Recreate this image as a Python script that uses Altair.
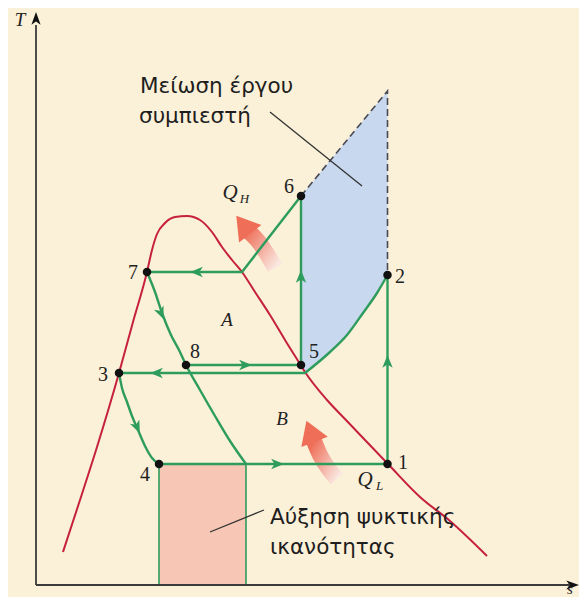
import altair as alt
import pandas as pd

# ---------------- data (s, T in arbitrary diagram units) ----------------
dome_s = [0.54, 0.88, 1.22, 1.66, 1.94, 2.22, 2.32, 2.42, 2.58, 2.78, 3.02, 3.28, 3.52, 3.72,
          3.92, 4.12, 4.38, 4.68, 4.98, 5.28, 5.38, 5.82, 6.18, 6.58, 7.04, 7.68, 8.28, 9.02]
dome_T = [0.66, 1.70, 2.76, 4.24, 5.26, 6.26, 6.70, 7.02, 7.24, 7.36, 7.38, 7.30, 7.06, 6.76,
          6.50, 6.26, 5.86, 5.40, 4.90, 4.42, 4.26, 3.70, 3.32, 2.90, 2.42, 1.76, 1.28, 0.58]

state_names = ["1", "2", "3", "4", "5", "6", "7", "8"]
state_s = [7.03, 7.03, 1.66, 2.46, 5.30, 5.30, 2.22, 3.00]
state_T = [2.42, 6.20, 4.24, 2.42, 4.40, 7.78, 6.26, 4.40]
label_s = [7.34, 7.28, 1.34, 2.18, 5.56, 5.06, 1.94, 3.18]
label_T = [2.44, 6.16, 4.20, 2.20, 4.66, 7.96, 6.24, 4.66]

# straight process lines
seg41_s, seg41_T = [2.46, 7.03], [2.42, 2.42]
seg12_s, seg12_T = [7.03, 7.03], [2.42, 6.20]
seg53_s, seg53_T = [5.38, 1.66], [4.24, 4.24]
seg85_s, seg85_T = [3.00, 5.30], [4.40, 4.40]
seg56_s, seg56_T = [5.30, 5.30], [4.40, 7.78]
seg67_s, seg67_T = [5.30, 4.12, 2.22], [7.78, 6.26, 6.26]
# curved process lines
cur52_s = [5.38, 5.88, 6.22, 6.54, 6.82, 7.03]
cur52_T = [4.24, 4.66, 5.00, 5.44, 5.84, 6.20]
cur78_s = [2.22, 2.38, 2.52, 2.70, 2.86, 3.00, 3.28, 3.58, 3.88, 4.20]
cur78_T = [6.26, 5.86, 5.44, 5.00, 4.70, 4.40, 3.90, 3.38, 2.88, 2.42]
cur34_s = [1.66, 1.72, 1.82, 1.92, 2.04, 2.20, 2.32, 2.46]
cur34_T = [4.24, 3.94, 3.66, 3.38, 3.10, 2.74, 2.54, 2.42]

# blue region (compressor work saved)
blue_s = [5.30, 5.38, 5.88, 6.22, 6.54, 6.82, 7.03]
blue_low = [4.40, 4.24, 4.66, 5.00, 5.44, 5.84, 6.20]
dash_s = [5.30, 7.03, 7.03]
dash_T = [7.78, 9.88, 6.20]

# pink rectangle (refrigeration capacity increase)
pink_s, pink_s2, pink_T, pink_T2 = [2.46], [4.20], [0.0], [2.42]

# arrow markers on the process lines
arr_s = [3.22, 2.50, 4.18, 2.42, 2.02, 4.82, 7.03, 5.30]
arr_T = [6.26, 5.44, 4.40, 4.24, 3.16, 2.42, 4.46, 6.16]
arr_ang = [270, 157, 90, 270, 156, 90, 0, 0]

# heat arrows
qh_s = [4.22, 4.44, 4.62, 4.78]
qh_T = [7.10, 6.88, 6.62, 6.34]
ql_s = [5.56, 5.68, 5.84, 6.02]
ql_T = [2.88, 2.60, 2.34, 2.12]
head_s = [4.18, 5.51]
head_T = [7.16, 3.02]
head_ang = [322, 339]

# letters
ital_txt = ["A", "B", "T"]
ital_s = [3.82, 4.92, -0.32]
ital_T = [5.30, 3.32, 11.30]
s_lab_s, s_lab_T = [10.68], [-0.24]
q_s = [3.88, 6.58]
q_T = [7.84, 2.10]
sub_txt = ["H", "L"]
sub_s = [4.17, 6.87]
sub_T = [7.72, 1.98]

greek_txt = ["Μείωση έργου", "συμπιεστή", "Αύξηση ψυκτικής", "ικανότητας"]
greek_s = [2.08, 2.06, 4.68, 4.68]
greek_T = [9.96, 9.36, 1.34, 0.74]
lead1_s, lead1_T = [4.68, 6.52], [9.46, 7.98]
lead2_s, lead2_T = [3.48, 4.56], [1.06, 1.50]

# axes
axv_s, axv_T = [0.0, 0.0], [0.0, 11.2]
axh_s, axh_T = [0.0, 10.66], [0.0, 0.0]
axhead_s, axhead_T, axhead_ang = [0.0, 10.72], [11.32, 0.0], [0, 90]

# ---------------- styling ----------------
GREEN = "#2E9C5D"
RED = "#C6203F"
BG = "#FBF0D8"
xs = alt.Scale(domain=[-0.56, 10.86], nice=False, zero=False)
ys = alt.Scale(domain=[-0.24, 11.54], nice=False, zero=False)
X = lambda f="s": alt.X(f"{f}:Q", scale=xs, axis=None)
Y = lambda f="T": alt.Y(f"{f}:Q", scale=ys, axis=None)


def lines(parts):
    rows = []
    for k, (ss, tt) in enumerate(parts):
        for i, (a, b) in enumerate(zip(ss, tt)):
            rows.append({"g": k, "i": i, "s": a, "T": b})
    return pd.DataFrame(rows)


straight = lines([(seg41_s, seg41_T), (seg12_s, seg12_T), (seg53_s, seg53_T),
                  (seg85_s, seg85_T), (seg56_s, seg56_T), (seg67_s, seg67_T)])
curves = lines([(cur52_s, cur52_T), (cur78_s, cur78_T), (cur34_s, cur34_T)])

blue = alt.Chart(pd.DataFrame({"s": blue_s, "low": blue_low})).transform_calculate(
    up=f"{dash_T[0]} + (datum.s - {dash_s[0]}) * ({dash_T[1]} - {dash_T[0]}) / ({dash_s[1]} - {dash_s[0]})"
).mark_area(color="#C8D8EE", opacity=1).encode(x=X(), y=Y("low"), y2="up:Q")

pink = alt.Chart(pd.DataFrame({"s": pink_s, "s2": pink_s2, "T": pink_T, "T2": pink_T2})).mark_rect(
    fill="#F7C6B5", stroke=GREEN, strokeWidth=1.6).encode(x=X(), x2="s2:Q", y=Y(), y2="T2:Q")

dome = alt.Chart(pd.DataFrame({"s": dome_s, "T": dome_T, "i": range(len(dome_s))})).mark_line(
    color=RED, strokeWidth=2, interpolate="monotone").encode(x=X(), y=Y(), order="i:Q")

dash = alt.Chart(pd.DataFrame({"s": dash_s, "T": dash_T, "i": range(3)})).mark_line(
    color="#4A4A55", strokeWidth=1.6, strokeDash=[7, 4]).encode(x=X(), y=Y(), order="i:Q")

straight_l = alt.Chart(straight).mark_line(color=GREEN, strokeWidth=2.4).encode(
    x=X(), y=Y(), detail="g:N", order="i:Q")
curve_l = alt.Chart(curves).mark_line(color=GREEN, strokeWidth=2.4, interpolate="monotone").encode(
    x=X(), y=Y(), detail="g:N", order="i:Q")

ARROW = "M0,-1 L0.75,0.85 L0,0.35 L-0.75,0.85 Z"
arrows = alt.Chart(pd.DataFrame({"s": arr_s, "T": arr_T, "a": arr_ang})).mark_point(
    shape=ARROW, filled=True, size=190, color=GREEN, opacity=1).encode(
    x=X(), y=Y(), angle=alt.Angle("a:Q", scale=None))

grad = alt.Gradient(gradient="linear",
                    stops=[alt.GradientStop(color="#EE6E58", offset=0),
                           alt.GradientStop(color="#FAE8E0", offset=1)],
                    x1=0, y1=0, x2=1, y2=1)
qh = alt.Chart(pd.DataFrame({"s": qh_s, "T": qh_T, "i": range(4)})).mark_line(
    stroke=grad, strokeWidth=16, interpolate="monotone").encode(x=X(), y=Y(), order="i:Q")
ql = alt.Chart(pd.DataFrame({"s": ql_s, "T": ql_T, "i": range(4)})).mark_line(
    stroke=grad, strokeWidth=16, interpolate="monotone").encode(x=X(), y=Y(), order="i:Q")
HEAD = "M0,-1 L1,0.6 L-1,0.6 Z"
heads = alt.Chart(pd.DataFrame({"s": head_s, "T": head_T, "a": head_ang})).mark_point(
    shape=HEAD, filled=True, size=800, color="#EE6E58", opacity=1).encode(
    x=X(), y=Y(), angle=alt.Angle("a:Q", scale=None))

dots = alt.Chart(pd.DataFrame({"s": state_s, "T": state_T})).mark_circle(
    size=72, color="#111111", opacity=1).encode(x=X(), y=Y())

nums = alt.Chart(pd.DataFrame({"s": label_s, "T": label_T, "t": state_names})).mark_text(
    font="Liberation Serif", fontSize=20, color="#222222", align="center", baseline="middle").encode(
    x=X(), y=Y(), text="t:N")

ital = alt.Chart(pd.DataFrame({"s": ital_s, "T": ital_T, "t": ital_txt})).mark_text(
    font="Liberation Serif", fontSize=19, fontStyle="italic", color="#222222",
    align="center", baseline="middle").encode(x=X(), y=Y(), text="t:N")
s_lab = alt.Chart(pd.DataFrame({"s": s_lab_s, "T": s_lab_T, "t": ["s"]})).mark_text(
    font="Liberation Serif", fontSize=15, fontStyle="italic", color="#222222",
    align="center", baseline="bottom").encode(x=X(), y=Y(), text="t:N")
qs = alt.Chart(pd.DataFrame({"s": q_s, "T": q_T, "t": ["Q", "Q"]})).mark_text(
    font="Liberation Serif", fontSize=21, fontStyle="italic", color="#222222",
    align="center", baseline="middle").encode(x=X(), y=Y(), text="t:N")
subs = alt.Chart(pd.DataFrame({"s": sub_s, "T": sub_T, "t": sub_txt})).mark_text(
    font="Liberation Serif", fontSize=13, fontStyle="italic", color="#222222",
    align="center", baseline="middle").encode(x=X(), y=Y(), text="t:N")

greek = alt.Chart(pd.DataFrame({"s": greek_s, "T": greek_T, "t": greek_txt})).mark_text(
    font="DejaVu Sans", fontSize=21.5, color="#1E1E1E", align="left", baseline="middle").encode(
    x=X(), y=Y(), text="t:N")

leaders = alt.Chart(lines([(lead1_s, lead1_T), (lead2_s, lead2_T)])).mark_line(
    color="#333333", strokeWidth=1.3).encode(x=X(), y=Y(), detail="g:N", order="i:Q")

axes = alt.Chart(lines([(axv_s, axv_T), (axh_s, axh_T)])).mark_line(
    color="#3C3C3C", strokeWidth=1.8).encode(x=X(), y=Y(), detail="g:N", order="i:Q")
axheads = alt.Chart(pd.DataFrame({"s": axhead_s, "T": axhead_T, "a": axhead_ang})).mark_point(
    shape="M0,-1 L0.65,0.8 L0,0.35 L-0.65,0.8 Z", filled=True, size=200, color="#111111", opacity=1).encode(
    x=X(), y=Y(), angle=alt.Angle("a:Q", scale=None))

chart = alt.layer(
    blue, pink, axes, axheads, dash, qh, ql, heads, dome, straight_l, curve_l, arrows,
    dots, nums, ital, s_lab, qs, subs, greek, leaders
).properties(width=571, height=589, padding=0, autosize="none", background=BG
).configure_view(stroke=None)

chart.save("out.html", embed_options={"renderer": "svg", "actions": False})
